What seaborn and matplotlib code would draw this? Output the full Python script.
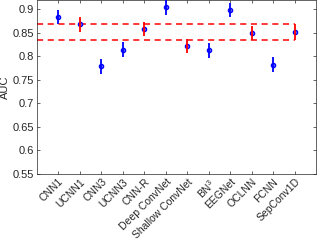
import numpy as np
import pandas as pd
import matplotlib
matplotlib.use('Agg')
import matplotlib.pyplot as plt
import seaborn as sns

# model names and AUC (mean, half-width of interval)
models = ['CNN1', 'UCNN1', 'CNN3', 'UCNN3', 'CNN-R', 'Deep ConvNet',
          'Shallow ConvNet', 'BN$^3$', 'EEGNet', 'OCLNN', 'FCNN', 'SepConv1D']
auc = [0.884, 0.868, 0.779, 0.8145, 0.858, 0.905,
       0.8215, 0.813, 0.898, 0.849, 0.7825, 0.852]
err = [0.015, 0.016, 0.016, 0.016, 0.015, 0.016,
       0.015, 0.016, 0.015, 0.015, 0.016, 0.016]
# models whose interval overlaps the reference band (drawn red)
overlap = [False, True, False, False, True, False,
           True, False, False, True, False, True]

df = pd.DataFrame({'model': models, 'auc': auc, 'err': err, 'overlap': overlap})
df['pos'] = np.arange(len(df))

sns.set_style('white')
plt.rcParams['font.family'] = ['Liberation Sans', 'DejaVu Sans']
plt.rcParams['mathtext.fontset'] = 'custom'
plt.rcParams['mathtext.rm'] = 'Liberation Sans'

fig = plt.figure(figsize=(3.18, 2.42), dpi=100)
ax = fig.add_axes([0.116, 0.281, 0.878, 0.719])

blue = '#0000ff'
red = '#ff0000'

# reference band from the last model's interval
ref = df.iloc[-1]
for yv in [ref['auc'] - ref['err'], ref['auc'] + ref['err']]:
    ax.plot([-1, ref['pos']], [yv, yv], color=red, ls='--', lw=1.1, dashes=(4, 3), zorder=1)

sns.scatterplot(data=df, x='pos', y='auc', ax=ax, marker='o', s=9,
                color='#7777ff', edgecolor=blue, linewidth=1.0, zorder=3, legend=False)

for _, r in df.iterrows():
    ax.errorbar(r['pos'], r['auc'], yerr=r['err'], fmt='none',
                ecolor=red if r['overlap'] else blue, elinewidth=1.3, capsize=0, zorder=4)

ax.set_xlim(-1, 12)
ax.set_ylim(0.55, 0.92)
ax.set_xticks(df['pos'])
ax.set_xticklabels(models, rotation=45, ha='right', rotation_mode='anchor', fontsize=7.5)
ax.set_yticks(np.arange(0.55, 0.901, 0.05))
ax.set_yticklabels(['0.55', '0.6', '0.65', '0.7', '0.75', '0.8', '0.85', '0.9'], fontsize=8)
ax.set_xlabel('')
ax.set_ylabel('AUC', fontsize=8)
ax.yaxis.set_label_coords(-0.095, 0.5)
ax.tick_params(direction='in', length=2.5, width=0.5, color='#262626', labelcolor='#262626', pad=2)
ax.tick_params(axis='y', right=True, left=True)
ax.tick_params(axis='x', top=True, bottom=True)
for s in ax.spines.values():
    s.set_color('#262626')
    s.set_linewidth(0.5)

fig.savefig('out.png', dpi=100)
